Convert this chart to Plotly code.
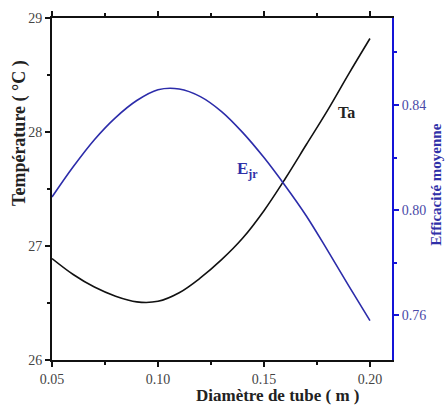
import plotly.graph_objects as go

diam = [0.05, 0.06, 0.07, 0.08, 0.09, 0.10, 0.11, 0.12, 0.13, 0.14, 0.15, 0.16, 0.17, 0.18, 0.19, 0.20]
temp_ta = [26.89, 26.75, 26.64, 26.56, 26.51, 26.515, 26.59, 26.72, 26.88, 27.07, 27.31, 27.59, 27.89, 28.19, 28.51, 28.82]
eff_ejr = [0.805, 0.8165, 0.8268, 0.8352, 0.8417, 0.8458, 0.8461, 0.8432, 0.8375, 0.8295, 0.8200, 0.8093, 0.7978, 0.7847, 0.7712, 0.758]

FONT = "Liberation Serif, Times New Roman, serif"
BLUE_LINE = "#2c2caa"
BLUE_TXT = "#3030a8"
BLUE_AX = "#1414d8"

fig = go.Figure()
fig.add_trace(go.Scatter(x=diam, y=temp_ta, mode="lines", line=dict(color="#111111", width=1.6, shape="spline"),
                         showlegend=False, yaxis="y"))
fig.add_trace(go.Scatter(x=diam, y=eff_ejr, mode="lines", line=dict(color=BLUE_LINE, width=1.6, shape="spline"),
                         showlegend=False, yaxis="y2"))

fig.update_layout(
    width=445, height=405,
    margin=dict(l=52, r=53, t=18, b=45),
    paper_bgcolor="white", plot_bgcolor="white",
    font=dict(family=FONT, size=14, color="#222222"),
    xaxis=dict(range=[0.05, 0.2104], tickvals=[0.05, 0.10, 0.15, 0.20], ticktext=["0.05", "0.10", "0.15", "0.20"],
               showgrid=False, zeroline=False, showline=True, linecolor="#111111", linewidth=2,
               ticks="outside", ticklen=5, tickwidth=1.5, tickcolor="#111111", mirror="ticks",
               minor=dict(ticks="outside", ticklen=3, tickwidth=1.5, tickcolor="#111111", dtick=0.025, tick0=0.05),
               tickfont=dict(family=FONT, size=14, color="#444444")),
    yaxis=dict(range=[26, 29], tickvals=[26, 27, 28, 29], showgrid=False, zeroline=False,
               showline=True, linecolor="#111111", linewidth=2,
               ticks="outside", ticklen=5, tickwidth=1.5, tickcolor="#111111",
               minor=dict(ticks="outside", ticklen=3, tickwidth=1.5, tickcolor="#111111", dtick=0.5, tick0=26),
               tickfont=dict(family=FONT, size=14, color="#444444")),
    yaxis2=dict(range=[0.743, 0.8731], overlaying="y", side="right", tickvals=[0.76, 0.80, 0.84],
                ticktext=["0.76", "0.80", "0.84"], showgrid=False, zeroline=False,
                showline=True, linecolor=BLUE_AX, linewidth=2,
                ticks="outside", ticklen=5, tickwidth=1.5, tickcolor=BLUE_AX,
                minor=dict(ticks="outside", ticklen=3, tickwidth=1.5, tickcolor=BLUE_AX, dtick=0.02, tick0=0.76),
                tickfont=dict(family=FONT, size=14, color="#4a4aa8")),
    annotations=[
        dict(text="<b>Température ( °C )</b>", x=-0.094, y=0.664, xref="paper", yref="paper",
             xanchor="center", yanchor="middle",
             textangle=-90, showarrow=False, font=dict(family=FONT, size=18, color="#222222")),
        dict(text="<b>Efficacité moyenne</b>", x=1.129, y=0.512, xref="paper", yref="paper",
             xanchor="center", yanchor="middle",
             textangle=-90, showarrow=False, font=dict(family=FONT, size=15, color=BLUE_TXT)),
        dict(text="<b>Diamètre de tube ( m )</b>", x=0.665, y=-0.105, xref="paper", yref="paper",
             xanchor="center", yanchor="middle",
             showarrow=False, font=dict(family=FONT, size=17, color="#222222")),
        dict(text="<b>Ta</b>", x=0.189, y=28.17, xref="x", yref="y", xanchor="center", yanchor="middle",
             showarrow=False, font=dict(family=FONT, size=16, color="#222222")),
        dict(text="<b>E<sub>jr</sub></b>", x=0.142, y=0.8152, xref="x", yref="y2", xanchor="center", yanchor="middle",
             showarrow=False, font=dict(family=FONT, size=17, color=BLUE_TXT)),
    ],
)

fig.write_html("out.html", config={"displayModeBar": False},
               post_script="document.body.style.margin='0';document.body.style.overflow='hidden';")
